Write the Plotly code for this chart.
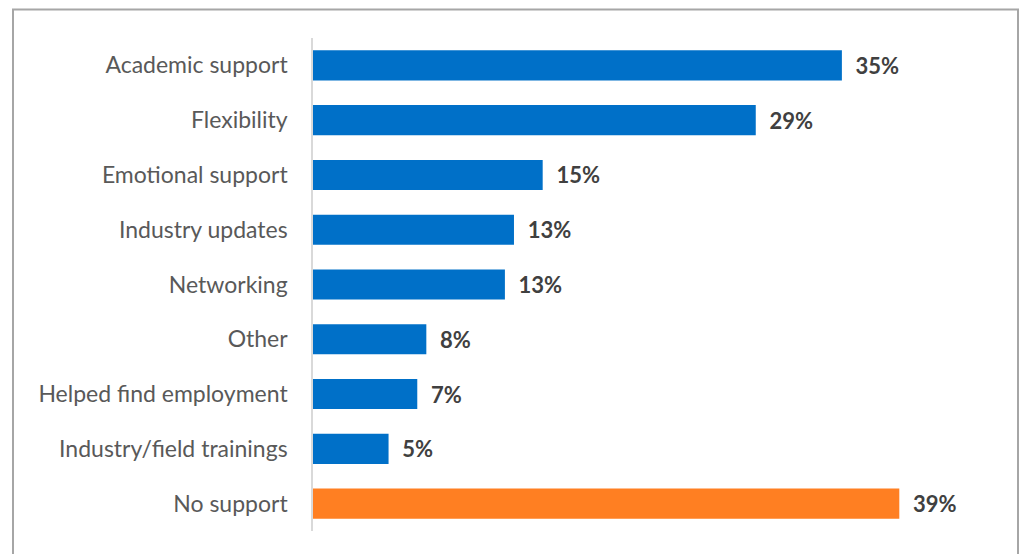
import plotly.graph_objects as go

categories = [
    "Academic support",
    "Flexibility",
    "Emotional support",
    "Industry updates",
    "Networking",
    "Other",
    "Helped find employment",
    "Industry/field trainings",
    "No support",
]
shares = [35.0, 29.3, 15.2, 13.3, 12.7, 7.5, 6.9, 5.0, 38.8]
bar_colors = ["#0070C8"] * 8 + ["#FF7F22"]

W, H = 1021, 554
plot_left, plot_right = 313, 993
plot_top, plot_bottom = 37.6, 531
x_max = 45

fig = go.Figure(
    go.Bar(
        x=shares,
        y=categories,
        orientation="h",
        marker=dict(color=bar_colors, line=dict(width=0)),
        texttemplate="  %{x:.0f}%",
        textposition="outside",
        textfont=dict(family="Lato, Carlito, Calibri, sans-serif", size=22, color="#404040", weight="bold"),
        cliponaxis=False,
        hoverinfo="skip",
    )
)

pw = plot_right - plot_left
ph = plot_bottom - plot_top

# outer frame of the chart
fig.add_shape(
    type="rect",
    xref="paper",
    yref="paper",
    x0=(13 - plot_left) / pw,
    x1=(1018 - plot_left) / pw,
    y0=(plot_bottom - 600) / ph,
    y1=(plot_bottom - 9) / ph,
    line=dict(color="#A6A6A6", width=2),
    fillcolor="rgba(0,0,0,0)",
    layer="below",
)

fig.update_layout(
    width=W,
    height=H,
    margin=dict(l=plot_left, r=W - plot_right, t=plot_top, b=H - plot_bottom, pad=0),
    paper_bgcolor="white",
    plot_bgcolor="white",
    bargap=0.45,
    showlegend=False,
    font=dict(family="Lato, Carlito, Calibri, sans-serif"),
    xaxis=dict(
        range=[0, x_max],
        showgrid=False,
        zeroline=False,
        showticklabels=False,
        showline=False,
        fixedrange=True,
    ),
    yaxis=dict(
        autorange="reversed",
        showgrid=False,
        zeroline=False,
        showline=True,
        linecolor="#D9D9D9",
        linewidth=1.5,
        ticks="",
        ticklabelstandoff=19,
        tickfont=dict(size=23, color="#595959"),
        fixedrange=True,
    ),
)

fig.write_html("out.html")
